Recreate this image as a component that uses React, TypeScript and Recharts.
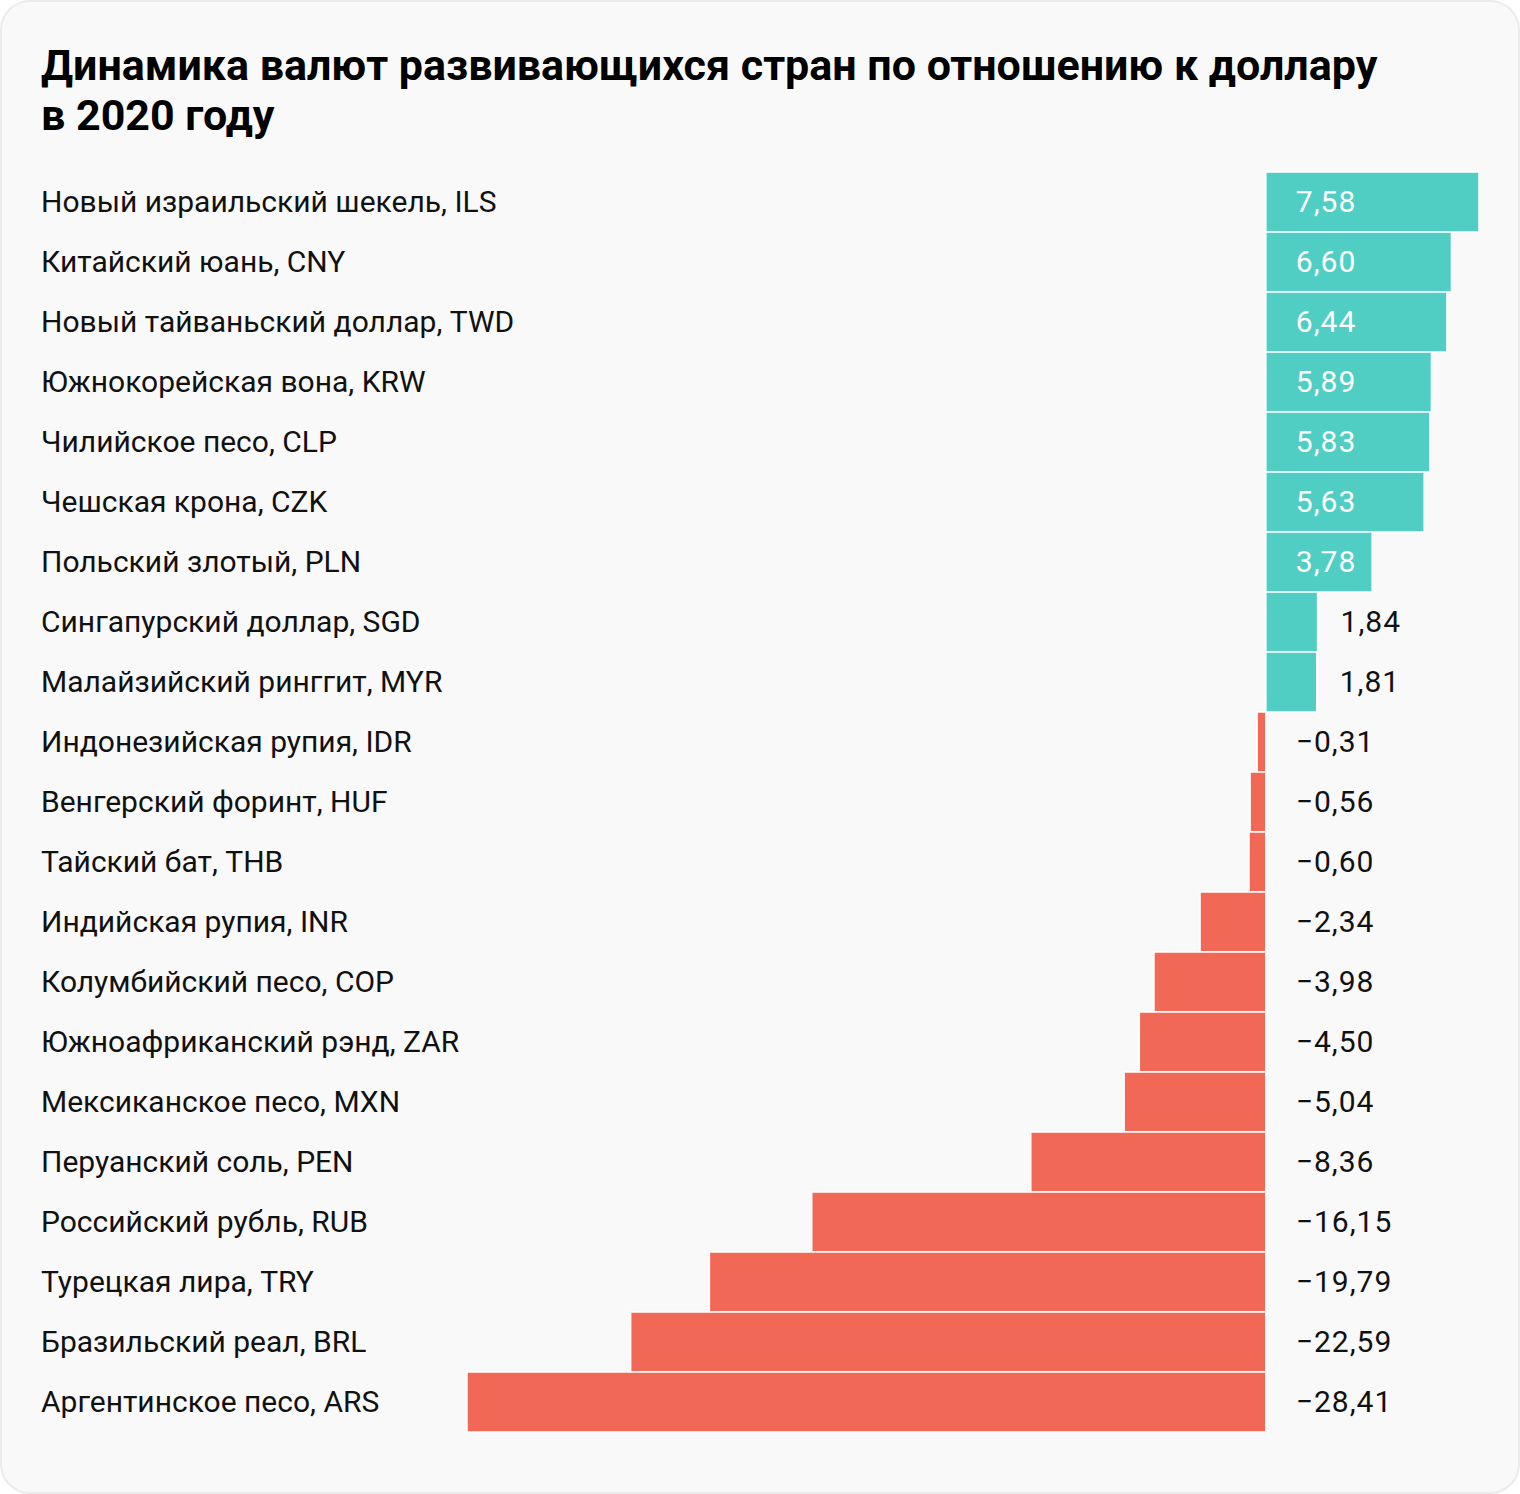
import React from "react";
import { BarChart, Bar, XAxis, YAxis, Cell, LabelList } from "recharts";

const categories = [
  "Новый израильский шекель, ILS",
  "Китайский юань, CNY",
  "Новый тайваньский доллар, TWD",
  "Южнокорейская вона, KRW",
  "Чилийское песо, CLP",
  "Чешская крона, CZK",
  "Польский злотый, PLN",
  "Сингапурский доллар, SGD",
  "Малайзийский ринггит, MYR",
  "Индонезийская рупия, IDR",
  "Венгерский форинт, HUF",
  "Тайский бат, THB",
  "Индийская рупия, INR",
  "Колумбийский песо, COP",
  "Южноафриканский рэнд, ZAR",
  "Мексиканское песо, MXN",
  "Перуанский соль, PEN",
  "Российский рубль, RUB",
  "Турецкая лира, TRY",
  "Бразильский реал, BRL",
  "Аргентинское песо, ARS",
];

const values = [
  7.58, 6.6, 6.44, 5.89, 5.83, 5.63, 3.78, 1.84, 1.81, -0.31, -0.56, -0.6,
  -2.34, -3.98, -4.5, -5.04, -8.36, -16.15, -19.79, -22.59, -28.41,
];

const domain: [number, number] = [-28.41, 7.58];

const data = categories.map((name, i) => ({ name, value: values[i] }));

const POS = "#50CEC4";
const NEG = "#F26856";
const FONT = "Roboto, 'Noto Sans', sans-serif";

const fmt = (v: number) =>
  (v < 0 ? "\u2212" : "") + Math.abs(v).toFixed(2).replace(".", ",");

const CategoryTick = (props: any) => {
  const { y, payload } = props;
  return (
    <text
      x={41}
      y={y - 1}
      textAnchor="start"
      dominantBaseline="central"
      fontFamily={FONT}
      fontSize={30}
      fill="#111"
    >
      {payload.value}
    </text>
  );
};

const ValueLabel = (props: any) => {
  const { x, y, width, height, value } = props;
  const left = Math.min(x, x + width);
  const right = Math.max(x, x + width);
  const w = right - left;
  const cy = y + height / 2 - 1;
  let tx: number;
  let fill = "#111";
  if (value >= 0) {
    if (w > 80) {
      tx = left + 30;
      fill = "#fff";
    } else {
      tx = right + 23;
    }
  } else {
    tx = right + 30;
  }
  return (
    <text
      x={tx}
      y={cy}
      textAnchor="start"
      dominantBaseline="central"
      fontFamily={FONT}
      fontSize={30}
      letterSpacing={1}
      fill={fill}
    >
      {fmt(value)}
    </text>
  );
};

export default function App() {
  return (
    <div
      style={{
        position: "absolute",
        left: 0,
        top: 0,
        width: 1520,
        height: 1494,
        boxSizing: "border-box",
        border: "2px solid #ebebeb",
        borderRadius: 30,
        background: "#f9f9f9",
        overflow: "hidden",
      }}
    >
      <div
        style={{
          position: "absolute",
          left: 39,
          top: 38,
          fontFamily: FONT,
          fontWeight: 700,
          fontSize: 43,
          lineHeight: "50px",
          color: "#000",
          width: 1440,
        }}
      >
        Динамика валют развивающихся стран по отношению к доллару
        <br />в 2020 году
      </div>
      <div style={{ position: "absolute", left: -2, top: -2 }}>
        <BarChart
          width={1520}
          height={1494}
          data={data}
          layout="vertical"
          margin={{ top: 172, right: 41, bottom: 62, left: 41 }}
          barCategoryGap={0}
        >
          <XAxis type="number" domain={domain} hide />
          <YAxis
            type="category"
            dataKey="name"
            width={426}
            axisLine={false}
            tickLine={false}
            tick={<CategoryTick />}
            interval={0}
          />
          <Bar
            dataKey="value"
            isAnimationActive={false}
            stroke="#ffffff"
            strokeWidth={1.5}
          >
            {data.map((d, i) => (
              <Cell key={i} fill={d.value >= 0 ? POS : NEG} />
            ))}
            <LabelList dataKey="value" content={<ValueLabel />} />
          </Bar>
        </BarChart>
      </div>
    </div>
  );
}
